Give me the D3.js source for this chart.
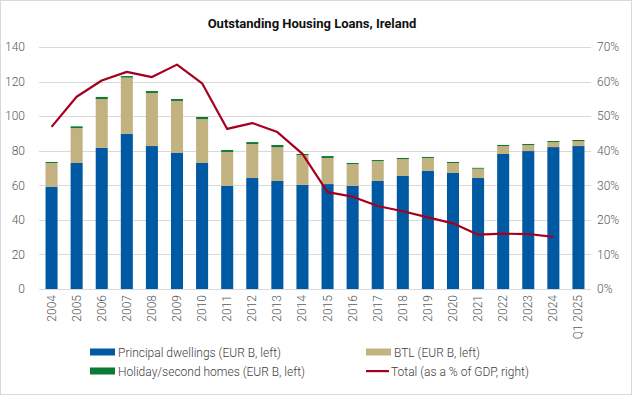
<!DOCTYPE html>
<html lang="en">
<head>
<meta charset="utf-8">
<title>Outstanding Housing Loans, Ireland</title>
<script src="https://cdn.jsdelivr.net/npm/d3@7"></script>
<style>
  body { margin: 0; background: #fff; }
  text { font-family: "Roboto", sans-serif; }
</style>
</head>
<body>
<script>
// data
var years = ["2004","2005","2006","2007","2008","2009","2010","2011","2012","2013","2014",
             "2015","2016","2017","2018","2019","2020","2021","2022","2023","2024","Q1 2025"];
var principal = [59.0,72.9,81.6,89.7,82.7,78.7,72.9,59.6,64.2,62.5,60.2,
                 60.7,59.6,62.5,65.4,68.3,67.1,64.2,78.1,79.8,82.1,82.7];
var btl = [13.9,20.2,28.3,32.6,30.7,30.1,25.4,19.7,19.7,19.5,17.3,
           15.1,12.7,11.5,9.8,7.5,5.8,5.4,4.6,3.5,2.9,2.9];
var holiday = [0.6,1.0,1.2,0.9,1.1,1.1,1.2,1.1,1.1,1.3,0.6,
               1.1,0.6,0.6,0.6,0.6,0.6,0.5,0.6,0.6,0.6,0.6];
var totalPctGdp = [46.9,55.6,60.3,62.8,61.3,64.9,59.5,46.3,48.0,45.4,39.1,
                   28.0,26.7,24.0,22.5,20.7,19.0,15.7,16.0,15.9,15.1,null];
var leftTicks = [0,20,40,60,80,100,120,140];
var rightTicks = [0,10,20,30,40,50,60,70];

var w = 633, h = 396;
var plot = {left: 39, right: 591, top: 47, bottom: 289};
var colors = {principal: "#0059A3", btl: "#C1B27F", holiday: "#0B7A36", total: "#A6001F"};

var svg = d3.select("body").append("svg")
    .attr("width", w).attr("height", h);

// outer frame
svg.append("rect")
    .attr("x", 0.5).attr("y", 0.5)
    .attr("width", w - 2).attr("height", h - 2)
    .attr("fill", "#fff").attr("stroke", "#d9d9d9");

svg.append("text")
    .attr("x", 312).attr("y", 28)
    .attr("text-anchor", "middle")
    .attr("font-size", "13px").attr("font-weight", "bold")
    .attr("fill", "#111")
    .text("Outstanding Housing Loans, Ireland");

var xScale = d3.scaleBand().domain(years)
    .range([plot.left, plot.right]).paddingInner(0.52).paddingOuter(0.26);
var yScale = d3.scaleLinear().domain([0, 140]).range([plot.bottom, plot.top]);
var y2Scale = d3.scaleLinear().domain([0, 0.70]).range([plot.bottom, plot.top]);

// gridlines
svg.append("g").selectAll("line")
  .data(leftTicks).enter().append("line")
    .attr("x1", plot.left).attr("x2", plot.right)
    .attr("y1", function(d) { return Math.round(yScale(d)) + 0.5; })
    .attr("y2", function(d) { return Math.round(yScale(d)) + 0.5; })
    .attr("stroke", "#d9d9d9");

// left axis
var yAxis = d3.axisLeft(yScale).tickValues(leftTicks).tickSize(0).tickPadding(0);
svg.append("g").attr("transform", "translate(25,0)").call(yAxis)
  .call(function(g) { g.select(".domain").remove(); })
  .selectAll("text")
    .attr("font-size", "12px").attr("fill", "#595959").attr("font-weight", 300)
    .attr("font-family", "Roboto, sans-serif");

// right axis
var y2Axis = d3.axisRight(y2Scale).tickValues(rightTicks.map(function(d) { return d / 100; }))
    .tickFormat(d3.format(".0%")).tickSize(0).tickPadding(0);
svg.append("g").attr("transform", "translate(597,0)").call(y2Axis)
  .call(function(g) { g.select(".domain").remove(); })
  .selectAll("text")
    .attr("font-size", "12px").attr("fill", "#595959").attr("font-weight", 300)
    .attr("font-family", "Roboto, sans-serif");

// stacked bars
var rows = years.map(function(y, i) {
  return {year: y, principal: principal[i], btl: btl[i], holiday: holiday[i]};
});
var stack = d3.stack().keys(["principal", "btl", "holiday"]);
var series = stack(rows);

svg.append("g").selectAll("g")
  .data(series).enter().append("g")
    .attr("fill", function(d) { return colors[d.key]; })
  .selectAll("rect")
  .data(function(d) { return d; }).enter().append("rect")
    .attr("x", function(d) { return xScale(d.data.year); })
    .attr("width", xScale.bandwidth())
    .attr("y", function(d) { return yScale(d[1]); })
    .attr("height", function(d) { return yScale(d[0]) - yScale(d[1]); });

// x axis baseline
svg.append("line")
    .attr("x1", plot.left).attr("x2", plot.right)
    .attr("y1", plot.bottom + 0.5).attr("y2", plot.bottom + 0.5)
    .attr("stroke", "#d9d9d9");

// rotated year labels
svg.append("g").selectAll("text")
  .data(years).enter().append("text")
    .attr("transform", function(d) {
      return "translate(" + (xScale(d) + xScale.bandwidth() / 2 + 4) + "," + (plot.bottom + 6) + ") rotate(-90)";
    })
    .attr("text-anchor", "end")
    .attr("font-size", "12px").attr("fill", "#595959").attr("font-weight", 300)
    .text(function(d) { return d; });

// total line
var line = d3.line()
    .defined(function(d) { return d != null; })
    .x(function(d, i) { return xScale(years[i]) + xScale.bandwidth() / 2; })
    .y(function(d) { return y2Scale(d / 100); });
svg.append("path")
    .datum(totalPctGdp)
    .attr("d", line)
    .attr("fill", "none")
    .attr("stroke", colors.total)
    .attr("stroke-width", 2.2)
    .attr("stroke-linejoin", "round");

// legend
var legendItems = [
  {label: "Principal dwellings (EUR B, left)", color: colors.principal, type: "rect", x: 90, y: 352},
  {label: "BTL (EUR B, left)", color: colors.btl, type: "rect", x: 366, y: 352},
  {label: "Holiday/second homes (EUR B, left)", color: colors.holiday, type: "rect", x: 90, y: 371},
  {label: "Total (as a % of GDP, right)", color: colors.total, type: "line", x: 366, y: 371}
];
var legend = svg.append("g").selectAll("g")
  .data(legendItems).enter().append("g")
    .attr("transform", function(d) { return "translate(" + d.x + "," + d.y + ")"; });
legend.append("rect")
    .attr("x", 0)
    .attr("y", function(d) { return d.type === "rect" ? -3.5 : -1; })
    .attr("width", function(d) { return d.type === "rect" ? 25 : 23; })
    .attr("height", function(d) { return d.type === "rect" ? 7 : 2.2; })
    .attr("fill", function(d) { return d.color; });
legend.append("text")
    .attr("x", function(d) { return d.type === "rect" ? 28 : 25; })
    .attr("y", 4.5)
    .attr("font-size", "12px").attr("fill", "#404040").attr("font-weight", 300)
    .text(function(d) { return d.label; });
</script>
</body>
</html>
